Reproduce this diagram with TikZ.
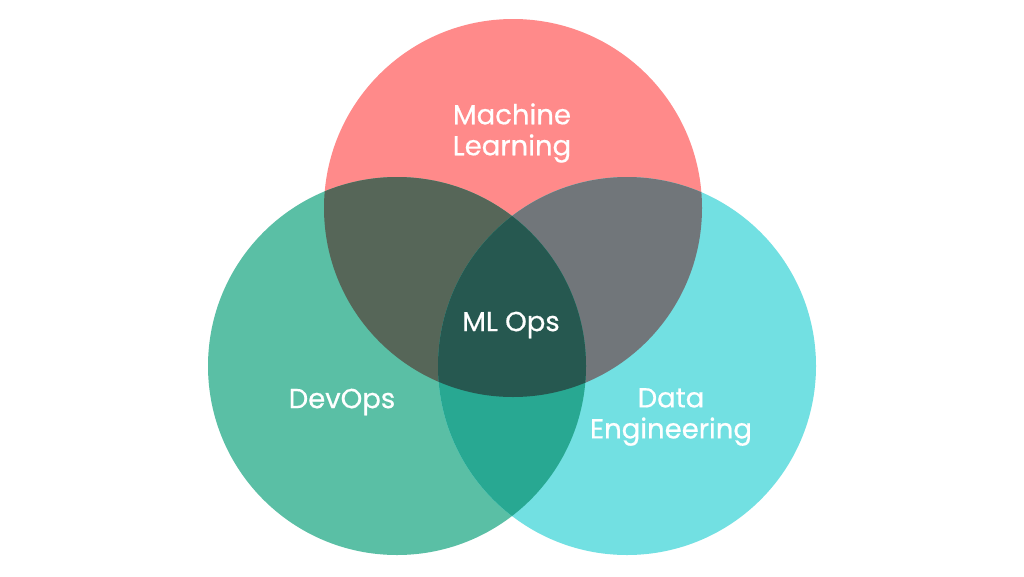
\documentclass[tikz,border=0pt]{standalone}
\usepackage{fontspec}
\setmainfont{Poppins}[FakeBold=0.6]
\definecolor{mlred}{HTML}{FF8A8A}
\definecolor{devgreen}{HTML}{5ABFA5}
\definecolor{decyan}{HTML}{72E0E2}
\definecolor{redgreen}{HTML}{566658}
\definecolor{redcyan}{HTML}{71767A}
\definecolor{greencyan}{HTML}{28A892}
\definecolor{allthree}{HTML}{265850}

\begin{document}
\begin{tikzpicture}[x=1pt, y=-1pt,
    setlabel/.style={text=white, align=center, inner sep=0pt,
      font=\fontsize{27.5}{31}\selectfont}]
    \useasboundingbox (0,0) rectangle (1024,576);
    \fill[white] (0,0) rectangle (1024,576);

    % Circle centres
    \coordinate (ml) at (513,208);
    \coordinate (dev) at (397,366);
    \coordinate (de) at (627,366);
    \def\rad{189pt}

    % The three sets
    \fill[mlred] (ml) circle[radius=\rad];
    \fill[devgreen] (dev) circle[radius=\rad];
    \fill[decyan] (de) circle[radius=\rad];

    % Pairwise overlaps
    \begin{scope}
        \clip (ml) circle[radius=\rad];
        \fill[redgreen] (dev) circle[radius=\rad];
    \end{scope}
    \begin{scope}
        \clip (ml) circle[radius=\rad];
        \fill[redcyan] (de) circle[radius=\rad];
    \end{scope}
    \begin{scope}
        \clip (dev) circle[radius=\rad];
        \fill[greencyan] (de) circle[radius=\rad];
    \end{scope}

    % Overlap of all three
    \begin{scope}
        \clip (ml) circle[radius=\rad];
        \clip (dev) circle[radius=\rad];
        \fill[allthree] (de) circle[radius=\rad];
    \end{scope}

    % Labels
    \node[setlabel] (mllabel) at (512,133) {Machine\\Learning};
    \node[setlabel] (devlabel) at (342,402) {DevOps};
    \node[setlabel] (delabel) at (671,417) {Data\\Engineering};
    \node[setlabel] (opslabel) at (511,325) {ML Ops};
\end{tikzpicture}
\end{document}
